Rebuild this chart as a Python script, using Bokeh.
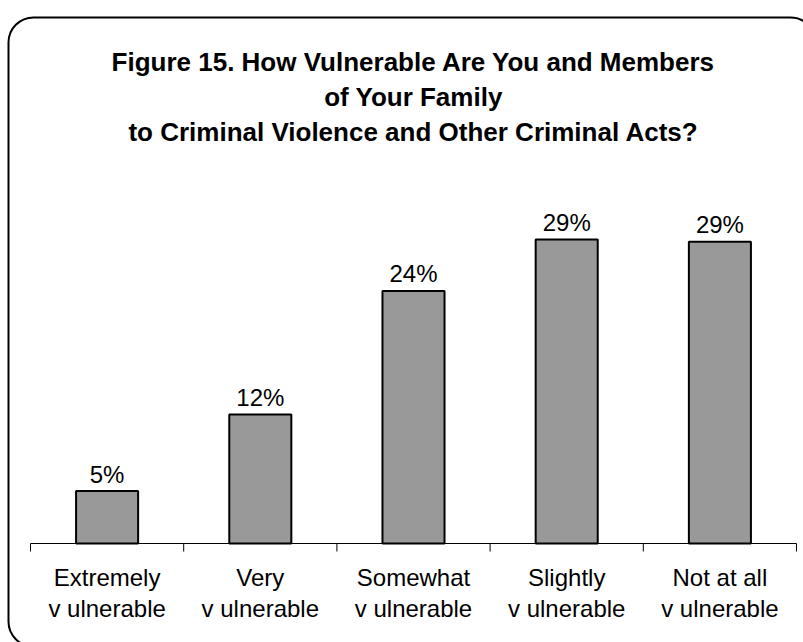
from bokeh.plotting import figure
from bokeh.models import ColumnDataSource, Range1d, BoxAnnotation, Label
from bokeh.core.properties import value
from bokeh.embed import file_html
from bokeh.resources import INLINE

categories = ["Extremely\nv ulnerable", "Very\nv ulnerable", "Somewhat\nv ulnerable",
              "Slightly\nv ulnerable", "Not at all\nv ulnerable"]
values = [5.0, 12.3, 24.1, 29.0, 28.8]
value_labels = ["5%", "12%", "24%", "29%", "29%"]
title_lines = ["Figure 15. How Vulnerable Are You and Members",
               "of Your Family",
               "to Criminal Violence and Other Criminal Acts?"]

W, H = 803, 642
PX_X, X0 = 153.2, 30.0      # pixels per category, left end of axis
PX_Y, Y0 = 10.48, 543.0     # pixels per percent, axis line position

n = len(categories)
xs = [i + 0.5 for i in range(n)]
src = ColumnDataSource(dict(x=xs, top=values, lab=value_labels, cat=categories))
edges = ColumnDataSource(dict(x=list(range(n + 1))))

p = figure(width=W, height=H, output_backend="svg", toolbar_location=None,
           x_range=Range1d(-X0 / PX_X, (W - X0) / PX_X),
           y_range=Range1d(-(H - Y0) / PX_Y, Y0 / PX_Y),
           x_axis_location=None, y_axis_location=None, min_border=0)
p.outline_line_color = None
p.xgrid.visible = False
p.ygrid.visible = False
p.background_fill_color = "white"
p.border_fill_color = "white"

FONT = "Liberation Sans"

# bars
p.vbar(x="x", top="top", width=0.405, bottom=0, source=src,
       fill_color="#999999", line_color="black", line_width=2)
p.text(x="x", y="top", text="lab", source=src, text_align="center",
       text_baseline="alphabetic", y_offset=-17, text_font_size="24px",
       text_font=value(FONT), text_color="black")

# category axis: line, boundary ticks, labels
p.segment(x0=0, x1=n, y0=0, y1=0, line_color="black", line_width=1)
p.segment(x0="x", x1="x", y0=0, y1=-8 / PX_Y, source=edges, line_color="black", line_width=1)
p.text(x="x", y=0, text="cat", source=src, text_align="center", text_baseline="top",
       y_offset=20, text_font_size="24px", text_font=value(FONT), text_color="black",
       text_line_height=1.15)

# title
for line, base in zip(title_lines, [61.7, 96.7, 131.7]):
    p.add_layout(Label(x=n / 2, y=(Y0 - base) / PX_Y, text=line, text_align="center",
                       text_baseline="alphabetic", text_font=FONT, text_font_size="26px",
                       text_font_style="bold", text_color="black"))

# rounded border
box = BoxAnnotation(left=8, right=815, top=17, bottom=646,
                    left_units="canvas", right_units="canvas",
                    top_units="canvas", bottom_units="canvas",
                    fill_color=None, fill_alpha=0, line_color="black", line_alpha=1.0,
                    line_width=2, border_radius=25, level="overlay")
p.add_layout(box)

open("out.html", "w").write(file_html(p, INLINE))
